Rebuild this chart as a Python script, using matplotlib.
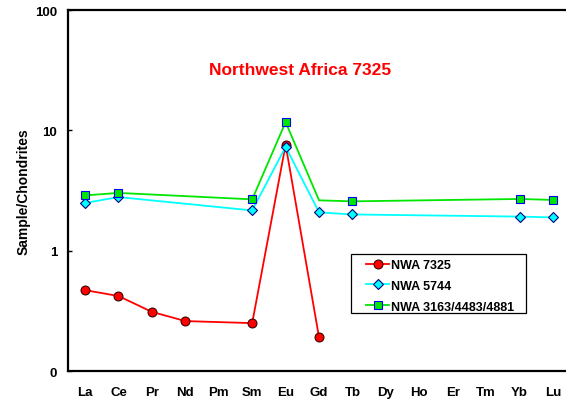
import numpy as np
import matplotlib
matplotlib.use('Agg')
import matplotlib.pyplot as plt
from matplotlib.patches import Rectangle

plt.rcParams['font.family'] = ['Liberation Sans', 'DejaVu Sans']
plt.rcParams['font.weight'] = 'bold'

# REE 元素
elements = ['La', 'Ce', 'Pr', 'Nd', 'Pm', 'Sm', 'Eu', 'Gd',
            'Tb', 'Dy', 'Ho', 'Er', 'Tm', 'Yb', 'Lu']
nan = np.nan

# 球粒陨石标准化值
nwa7325 = [0.47, 0.42, 0.31, 0.26, nan, 0.25, 7.6, 0.19,
           nan, nan, nan, nan, nan, nan, nan]
nwa5744 = [2.49, 2.79, nan, nan, nan, 2.16, 7.3, 2.08,
           2.00, nan, nan, nan, nan, 1.92, 1.89]
nwa3163 = [2.88, 3.02, nan, nan, nan, 2.67, 11.7, 2.62,
           2.57, nan, nan, nan, nan, 2.69, 2.64]
# NWA 3163 组在 Gd 处没有画点
nwa3163_nomarker = ['Gd']

y_ticks = [0.1, 1, 10, 100]
y_ticklabels = ['0', '1', '10', '100']

fig = plt.figure(figsize=(5.66, 4.02), dpi=100)
ax = fig.add_axes([0.1207, 0.0746, 0.886, 0.898])

x_all = np.arange(len(elements))


def draw(values, label, color, marker, ms, mec, skip=()):
    v = np.array(values, dtype=float)
    mask = ~np.isnan(v)
    xs = x_all[mask]
    ys = v[mask]
    names = [e for e, m in zip(elements, mask) if m]
    mevery = [i for i, n in enumerate(names) if n not in skip]
    ax.plot(xs, ys, '-', color=color, linewidth=1.3, marker=marker,
            markersize=ms, markerfacecolor=color, markeredgecolor=mec,
            markeredgewidth=0.8, markevery=mevery, label=label, zorder=3)


draw(nwa7325, 'NWA 7325', '#ff0000', 'o', 6.4, '#400000')
draw(nwa5744, 'NWA 5744', '#00ffff', 'D', 4.8, '#000080')
draw(nwa3163, 'NWA 3163/4483/4881', '#00e600', 's', 5.6, '#0000ff',
     skip=nwa3163_nomarker)

ax.set_yscale('log')
ax.set_ylim(0.1, 100)
ax.set_xlim(-0.5, len(elements) - 0.5)
ax.set_yticks(y_ticks)
ax.set_yticklabels(y_ticklabels)
ax.yaxis.set_minor_locator(matplotlib.ticker.NullLocator())
ax.set_xticks(x_all)
ax.set_xticklabels(elements)
ax.tick_params(axis='x', length=0, pad=11, labelsize=9.5)
ax.tick_params(axis='y', direction='in', length=3, width=1, pad=8, labelsize=9.5)
for sp in ax.spines.values():
    sp.set_linewidth(1.6)

ax.set_ylabel('Sample/Chondrites', fontsize=10, fontweight='bold', labelpad=3)

ax.text(0.462, 0.834, 'Northwest Africa 7325', transform=ax.transAxes,
        color='#ff0000', fontsize=12.5, fontweight='bold', ha='center', va='center')

# 图例边框
ax.add_patch(Rectangle((0.564, 0.161), 0.349, 0.163, transform=ax.transAxes,
                       facecolor='white', edgecolor='black', linewidth=0.9, zorder=4))
leg = ax.legend(loc='upper left', bbox_to_anchor=(0.594, 0.31), fontsize=9,
                frameon=False, borderpad=0, handlelength=1.85,
                handletextpad=0.15, labelspacing=0.7, borderaxespad=0)
leg.set_zorder(5)

plt.savefig('out.png', dpi=100)
